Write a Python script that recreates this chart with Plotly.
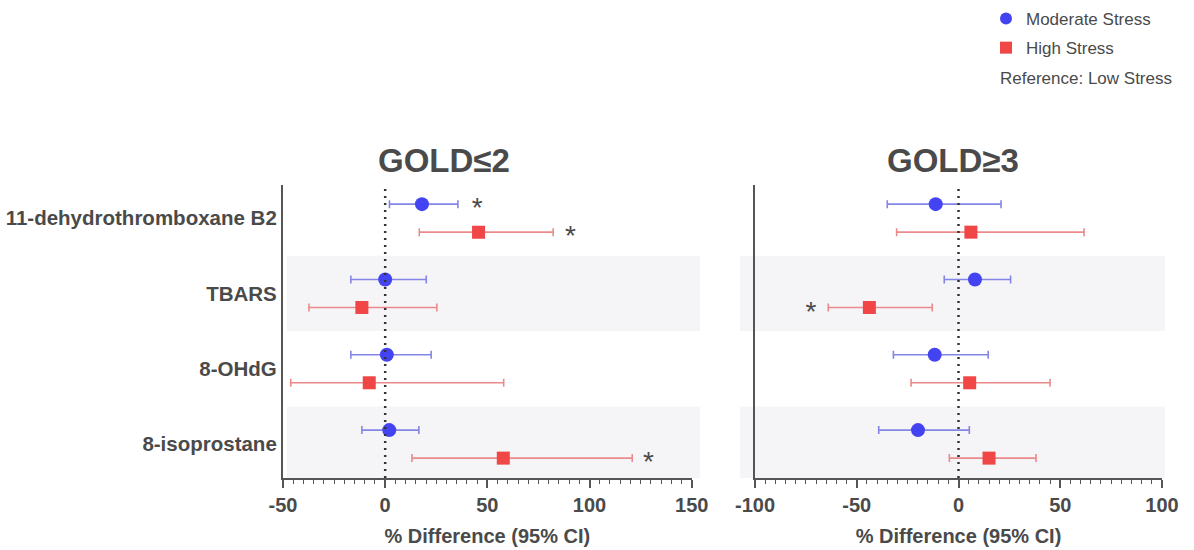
import plotly.graph_objects as go

categories = ["11-dehydrothromboxane B2", "TBARS", "8-OHdG", "8-isoprostane"]
panel_titles = ["GOLD≤2", "GOLD≥3"]
series_names = ["Moderate Stress", "High Stress"]

# GOLD<=2 (% difference, 95% CI)
g2_mod_est = [18.0, 0.0, 0.8, 2.0]
g2_mod_lo = [2.1, -16.8, -16.8, -11.4]
g2_mod_hi = [35.6, 20.1, 22.5, 16.5]
g2_high_est = [45.7, -11.4, -7.8, 57.8]
g2_high_lo = [16.7, -37.3, -46.2, 13.1]
g2_high_hi = [82.2, 25.3, 58.0, 120.9]

# GOLD>=3
g3_mod_est = [-11.2, 8.1, -11.7, -19.9]
g3_mod_lo = [-35.0, -7.0, -32.0, -39.2]
g3_mod_hi = [20.9, 25.6, 14.6, 5.3]
g3_high_est = [6.1, -43.8, 5.5, 15.0]
g3_high_lo = [-30.4, -64.0, -23.3, -4.5]
g3_high_hi = [61.7, -12.9, 45.0, 38.1]

# significance stars: (panel index, series index, category index, x position)
star_panel = [0, 0, 0, 1]
star_series = [0, 1, 1, 1]
star_cat = [0, 0, 3, 1]
star_x = [45.0, 90.7, 128.8, -72.5]

x_ranges = [[-50, 150], [-100, 100]]
x_ticks = [[-50, 0, 50, 100, 150], [-100, -50, 0, 50, 100]]
x_ticktext = [["-50", "0", "50", "100", "150"], ["-100", "-50", "0", "50", "100"]]

# ---------- styling ----------
W, H = 1194, 550
TXT = "#4a4a4a"
AX = "#555555"
FONT = "Arial, Liberation Sans, sans-serif"
mk_colors = ["#4343f2", "#f04646"]
bar_colors = ["#8585e6", "#ea8a8a"]
symbols = ["circle", "square"]
msizes = [14, 13]
offsets = [-0.186, 0.186]

# pixel layout
px_x = [(283, 691.7), (755, 1162)]
px_top, px_bot = 185, 478
y_range = [3.45, -0.44]
title_px = [444, 953]

def fx(p):
    return p / W

def fy(p):
    return 1 - p / H

data_sets = [
    [(g2_mod_est, g2_mod_lo, g2_mod_hi), (g2_high_est, g2_high_lo, g2_high_hi)],
    [(g3_mod_est, g3_mod_lo, g3_mod_hi), (g3_high_est, g3_high_lo, g3_high_hi)],
]

fig = go.Figure()

for p in range(2):
    xa = "x" if p == 0 else "x2"
    ya = "y" if p == 0 else "y2"
    for s in range(2):
        est, lo, hi = data_sets[p][s]
        ys = [i + offsets[s] for i in range(len(categories))]
        fig.add_trace(go.Scatter(
            x=est, y=ys, mode="markers",
            name=series_names[s],
            legendgroup=series_names[s],
            showlegend=(p == 0),
            marker=dict(symbol=symbols[s], size=msizes[s], color=mk_colors[s]),
            error_x=dict(type="data", symmetric=False,
                         array=[h - e for h, e in zip(hi, est)],
                         arrayminus=[e - l for e, l in zip(est, lo)],
                         color=bar_colors[s], thickness=1.6, width=4),
            xaxis=xa, yaxis=ya,
        ))
    # stars
    sx = [star_x[k] for k in range(len(star_x)) if star_panel[k] == p]
    sy = [star_cat[k] + offsets[star_series[k]] + 0.08 for k in range(len(star_x)) if star_panel[k] == p]
    fig.add_trace(go.Scatter(
        x=sx, y=sy, mode="text", text=["*"] * len(sx),
        textfont=dict(size=28, color=TXT, family=FONT),
        showlegend=False, hoverinfo="skip", xaxis=xa, yaxis=ya,
    ))

shapes = []
band_x = [(287, 700), (740, 1165)]
def ypix(v):
    return px_top + (v - y_range[1]) / (y_range[0] - y_range[1]) * (px_bot - px_top)
for p in range(2):
    for (a, b) in [(0.5, 1.5), (2.5, y_range[0])]:
        shapes.append(dict(type="rect", xref="paper", yref="paper",
                           x0=fx(band_x[p][0]), x1=fx(band_x[p][1]),
                           y0=fy(ypix(b)), y1=fy(ypix(a)),
                           fillcolor="#f5f5f8", line=dict(width=0), layer="below"))
    xa = "x" if p == 0 else "x2"
    ya = "y" if p == 0 else "y2"
    shapes.append(dict(type="line", xref=xa, yref=ya + " domain", x0=0, x1=0, y0=0, y1=1,
                       line=dict(color="#333333", width=2.5, dash="2px,5px"), layer="above"))

layout = dict(
    width=W, height=H,
    margin=dict(l=0, r=0, t=0, b=0, autoexpand=False),
    paper_bgcolor="white", plot_bgcolor="rgba(0,0,0,0)",
    font=dict(family=FONT, color=TXT),
    shapes=shapes,
    showlegend=True,
    legend=dict(x=fx(986), y=fy(1), xanchor="left", yanchor="top",
                font=dict(size=17, color=TXT, family=FONT),
                bgcolor="rgba(0,0,0,0)", tracegroupgap=4, itemwidth=30,
                itemsizing="constant"),
)

for p in range(2):
    key = "xaxis" if p == 0 else "xaxis2"
    minor_vals = list(range(x_ranges[p][0], x_ranges[p][1] + 1, 5))
    layout[key] = dict(
        showline=True, linecolor=AX, linewidth=2.2, showgrid=False, zeroline=False,
        automargin=False,
        ticks="outside", ticklen=8, tickwidth=2, tickcolor=AX,
        tickfont=dict(size=20, color=TXT, family=FONT, weight="bold"),
        tickmode="array", tickvals=x_ticks[p], ticktext=x_ticktext[p],
        minor=dict(tickmode="array", tickvals=minor_vals, ticks="outside", ticklen=4,
                   tickwidth=1.3, tickcolor=AX, showgrid=False),
        domain=[fx(px_x[p][0]), fx(px_x[p][1])],
        range=x_ranges[p],
        anchor="y" if p == 0 else "y2",
        title=dict(text="% Difference (95% CI)", standoff=14,
                   font=dict(size=20, color=TXT, family=FONT, weight="bold")),
    )
    ykey = "yaxis" if p == 0 else "yaxis2"
    layout[ykey] = dict(
        domain=[fy(px_bot), fy(px_top)], range=y_range,
        anchor="x" if p == 0 else "x2",
        automargin=False,
        showline=True, linecolor=AX, linewidth=2.2, showgrid=False, zeroline=False,
        ticks="", tickvals=list(range(len(categories))),
        ticktext=categories if p == 0 else [""] * len(categories),
        showticklabels=(p == 0),
        tickfont=dict(size=20.5, color=TXT, family=FONT, weight="bold"),
        ticklabelstandoff=0,
    )

annotations = []
for p in range(2):
    annotations.append(dict(text=panel_titles[p], xref="paper", yref="paper",
                            x=fx(title_px[p]),
                            y=fy(160), xanchor="center", yanchor="middle", showarrow=False,
                            font=dict(size=33, color=TXT, family=FONT, weight="bold")))
annotations.append(dict(text="Reference: Low Stress", xref="paper", yref="paper",
                        x=fx(998), y=fy(78), xanchor="left", yanchor="middle", showarrow=False,
                        font=dict(size=17, color=TXT, family=FONT)))
layout["annotations"] = annotations

fig.update_layout(**layout)
fig.write_html("out.html", config={"displayModeBar": False},
               post_script="document.body.style.margin='0';document.body.style.overflow='hidden';")
